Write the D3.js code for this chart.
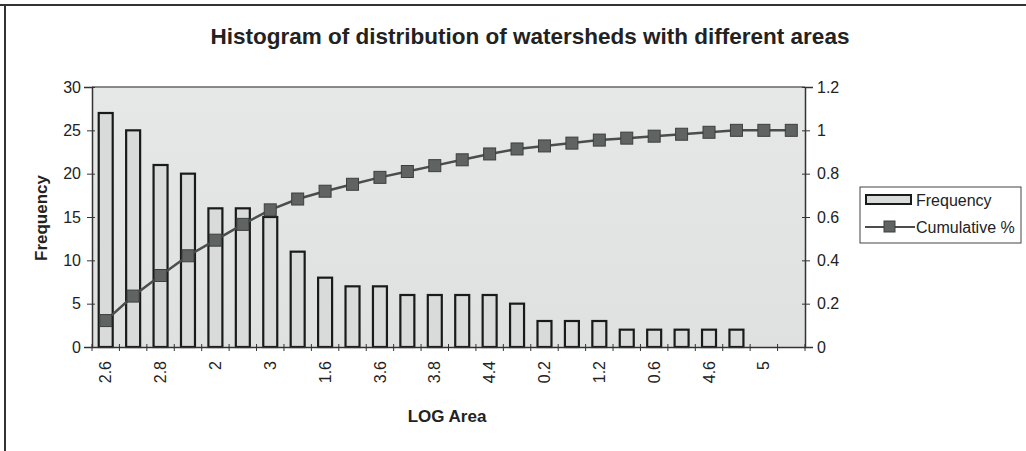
<!DOCTYPE html>
<html>
<head>
<meta charset="utf-8">
<script src="https://cdn.jsdelivr.net/npm/d3@7"></script>
<style>
  body { margin: 0; background: #fff; }
  text { font-family: "Liberation Sans", Arial, sans-serif; fill: #222; }
</style>
</head>
<body>
<div class="chart"></div>
<script>
// bins, sorted by frequency (pareto order); only every other label is shown
const categories = ["2.6","2.4","2.8","2.2","2","3.2","3","1.8","1.6","3.4","3.6","4",
                    "3.8","4.2","4.4","1.4","0.2","1","1.2","0.8","0.6","0.4","4.6","4.8","5","More"];
const frequency = [27,25,21,20,16,16,15,11,8,7,7,6,6,6,6,5,3,3,3,2,2,2,2,2,0,0];
const cumulative = [0.122,0.235,0.330,0.421,0.493,0.566,0.633,0.683,0.719,0.751,0.783,0.810,
                    0.837,0.864,0.891,0.914,0.928,0.941,0.955,0.964,0.973,0.982,0.991,1,1,1];
const freqTicks = [0,5,10,15,20,25,30];
const cumTicks = [0,0.2,0.4,0.6,0.8,1,1.2];

const outerWidth = 1026;
const outerHeight = 451;
const margin = {top: 87, left: 92, bottom: 104, right: 221};
const width = outerWidth - margin.left - margin.right;
const height = outerHeight - margin.top - margin.bottom;
const tickFont = "16px";

const root = d3.select(".chart").append("svg")
    .attr("width", outerWidth)
    .attr("height", outerHeight);

// scanned page frame (top + left edges only)
root.append("line").attr("x1", 0).attr("x2", outerWidth).attr("y1", 5).attr("y2", 5)
    .attr("stroke", "#333").attr("stroke-width", 2);
root.append("line").attr("x1", 5).attr("x2", 5).attr("y1", 5).attr("y2", outerHeight)
    .attr("stroke", "#333").attr("stroke-width", 2);

const defs = root.append("defs");
const grad = defs.append("linearGradient").attr("id", "bg").attr("x1", 0).attr("x2", 0).attr("y1", 0).attr("y2", 1);
grad.append("stop").attr("offset", "0%").attr("stop-color", "#e6e8e7");
grad.append("stop").attr("offset", "100%").attr("stop-color", "#dfe1e0");

root.append("text")
    .attr("x", 530).attr("y", 44)
    .attr("text-anchor", "middle")
    .style("font-size", "22.5px").style("font-weight", "bold")
    .text("Histogram of distribution of watersheds with different areas");

const svg = root.append("g")
    .attr("transform", `translate(${margin.left}, ${margin.top})`);

let xScale = d3.scaleBand()
    .domain(categories)
    .range([0, width])
    .paddingInner(0.49)
    .paddingOuter(0.245);

let yScale = d3.scaleLinear().domain([0, 30]).range([height, 0]);
let y2Scale = d3.scaleLinear().domain([0, 1.2]).range([height, 0]);

svg.append("rect")
    .attr("width", width).attr("height", height)
    .attr("fill", "url(#bg)");
svg.append("line").attr("x1", 0).attr("x2", width).attr("y1", 0).attr("y2", 0)
    .attr("stroke", "#666").attr("stroke-width", 1.5);

// bars
svg.selectAll(".bar")
    .data(frequency.map((v, i) => ({cat: categories[i], v})).filter(d => d.v > 0))
    .join("rect")
    .attr("class", "bar")
    .attr("x", d => xScale(d.cat))
    .attr("y", d => yScale(d.v))
    .attr("width", xScale.bandwidth())
    .attr("height", d => yScale(0) - yScale(d.v))
    .attr("fill", "#d9dbda")
    .attr("stroke", "#1a1a1a")
    .attr("stroke-width", 2.2);

// axes
const step = xScale.step();
const xAxis = d3.axisBottom(xScale).tickSize(0).tickFormat((d, i) => i % 2 === 0 ? d : "");
const gx = svg.append("g").attr("transform", `translate(0, ${height})`).call(xAxis);
gx.select(".domain").attr("stroke", "#333").attr("stroke-width", 1.5);
gx.selectAll(".tick text")
    .attr("transform", "rotate(-90)")
    .attr("x", -14).attr("y", 0).attr("dy", "0.35em")
    .attr("text-anchor", "end")
    .style("font-size", tickFont).style("font-family", "Liberation Sans, Arial, sans-serif");
gx.selectAll(".bound")
    .data(d3.range(categories.length + 1))
    .join("line")
    .attr("x1", i => i * step).attr("x2", i => i * step)
    .attr("y1", -3).attr("y2", 4)
    .attr("stroke", "#333");

const yAxis = d3.axisLeft(yScale).tickValues(freqTicks).tickSize(8).tickPadding(5);
const gy = svg.append("g").call(yAxis);
gy.select(".domain").attr("stroke", "#333").attr("stroke-width", 1.5);
gy.selectAll(".tick line").attr("x1", -5).attr("x2", 3).attr("stroke", "#333");
gy.selectAll(".tick text").attr("x", -11).style("font-size", tickFont).style("font-family", "Liberation Sans, Arial, sans-serif");

const y2Axis = d3.axisRight(y2Scale).tickValues(cumTicks).tickFormat(d => String(d))
    .tickSize(8).tickPadding(5);
const gy2 = svg.append("g").attr("transform", `translate(${width}, 0)`).call(y2Axis);
gy2.select(".domain").attr("stroke", "#333").attr("stroke-width", 1.5);
gy2.selectAll(".tick line").attr("x1", -3).attr("x2", 5).attr("stroke", "#333");
gy2.selectAll(".tick text").attr("x", 12).style("font-size", tickFont).style("font-family", "Liberation Sans, Arial, sans-serif");

// cumulative line + markers
const cx = c => xScale(c) + xScale.bandwidth() / 2;
const line = d3.line()
    .x((d, i) => cx(categories[i]))
    .y(d => y2Scale(d));
svg.append("path")
    .datum(cumulative)
    .attr("d", line)
    .attr("fill", "none")
    .attr("stroke", "#4a4d4c")
    .attr("stroke-width", 2.5);
svg.selectAll(".marker")
    .data(cumulative)
    .join("rect")
    .attr("class", "marker")
    .attr("x", (d, i) => cx(categories[i]) - 6)
    .attr("y", d => y2Scale(d) - 6)
    .attr("width", 12).attr("height", 12)
    .attr("fill", "#5f6362")
    .attr("stroke", "#3c3f3e");

// axis titles
root.append("text")
    .attr("transform", "translate(47, 218) rotate(-90)")
    .attr("text-anchor", "middle")
    .style("font-size", "17px").style("font-weight", "bold")
    .text("Frequency");
root.append("text")
    .attr("x", 447).attr("y", 422)
    .attr("text-anchor", "middle")
    .style("font-size", "17px").style("font-weight", "bold")
    .text("LOG Area");

// legend
const lg = root.append("g").attr("transform", "translate(860, 187)");
lg.append("rect").attr("width", 161).attr("height", 56)
    .attr("fill", "#fff").attr("stroke", "#444");
lg.append("rect").attr("x", 6).attr("y", 8).attr("width", 45).attr("height", 9)
    .attr("fill", "#d9dbda").attr("stroke", "#1a1a1a").attr("stroke-width", 2);
lg.append("text").attr("x", 56).attr("y", 19).style("font-size", tickFont).text("Frequency");
lg.append("line").attr("x1", 5).attr("x2", 55).attr("y1", 40).attr("y2", 40)
    .attr("stroke", "#4a4d4c").attr("stroke-width", 2);
lg.append("rect").attr("x", 24).attr("y", 34).attr("width", 11).attr("height", 11)
    .attr("fill", "#5f6362").attr("stroke", "#3c3f3e");
lg.append("text").attr("x", 56).attr("y", 46).style("font-size", tickFont).text("Cumulative %");
</script>
</body>
</html>
